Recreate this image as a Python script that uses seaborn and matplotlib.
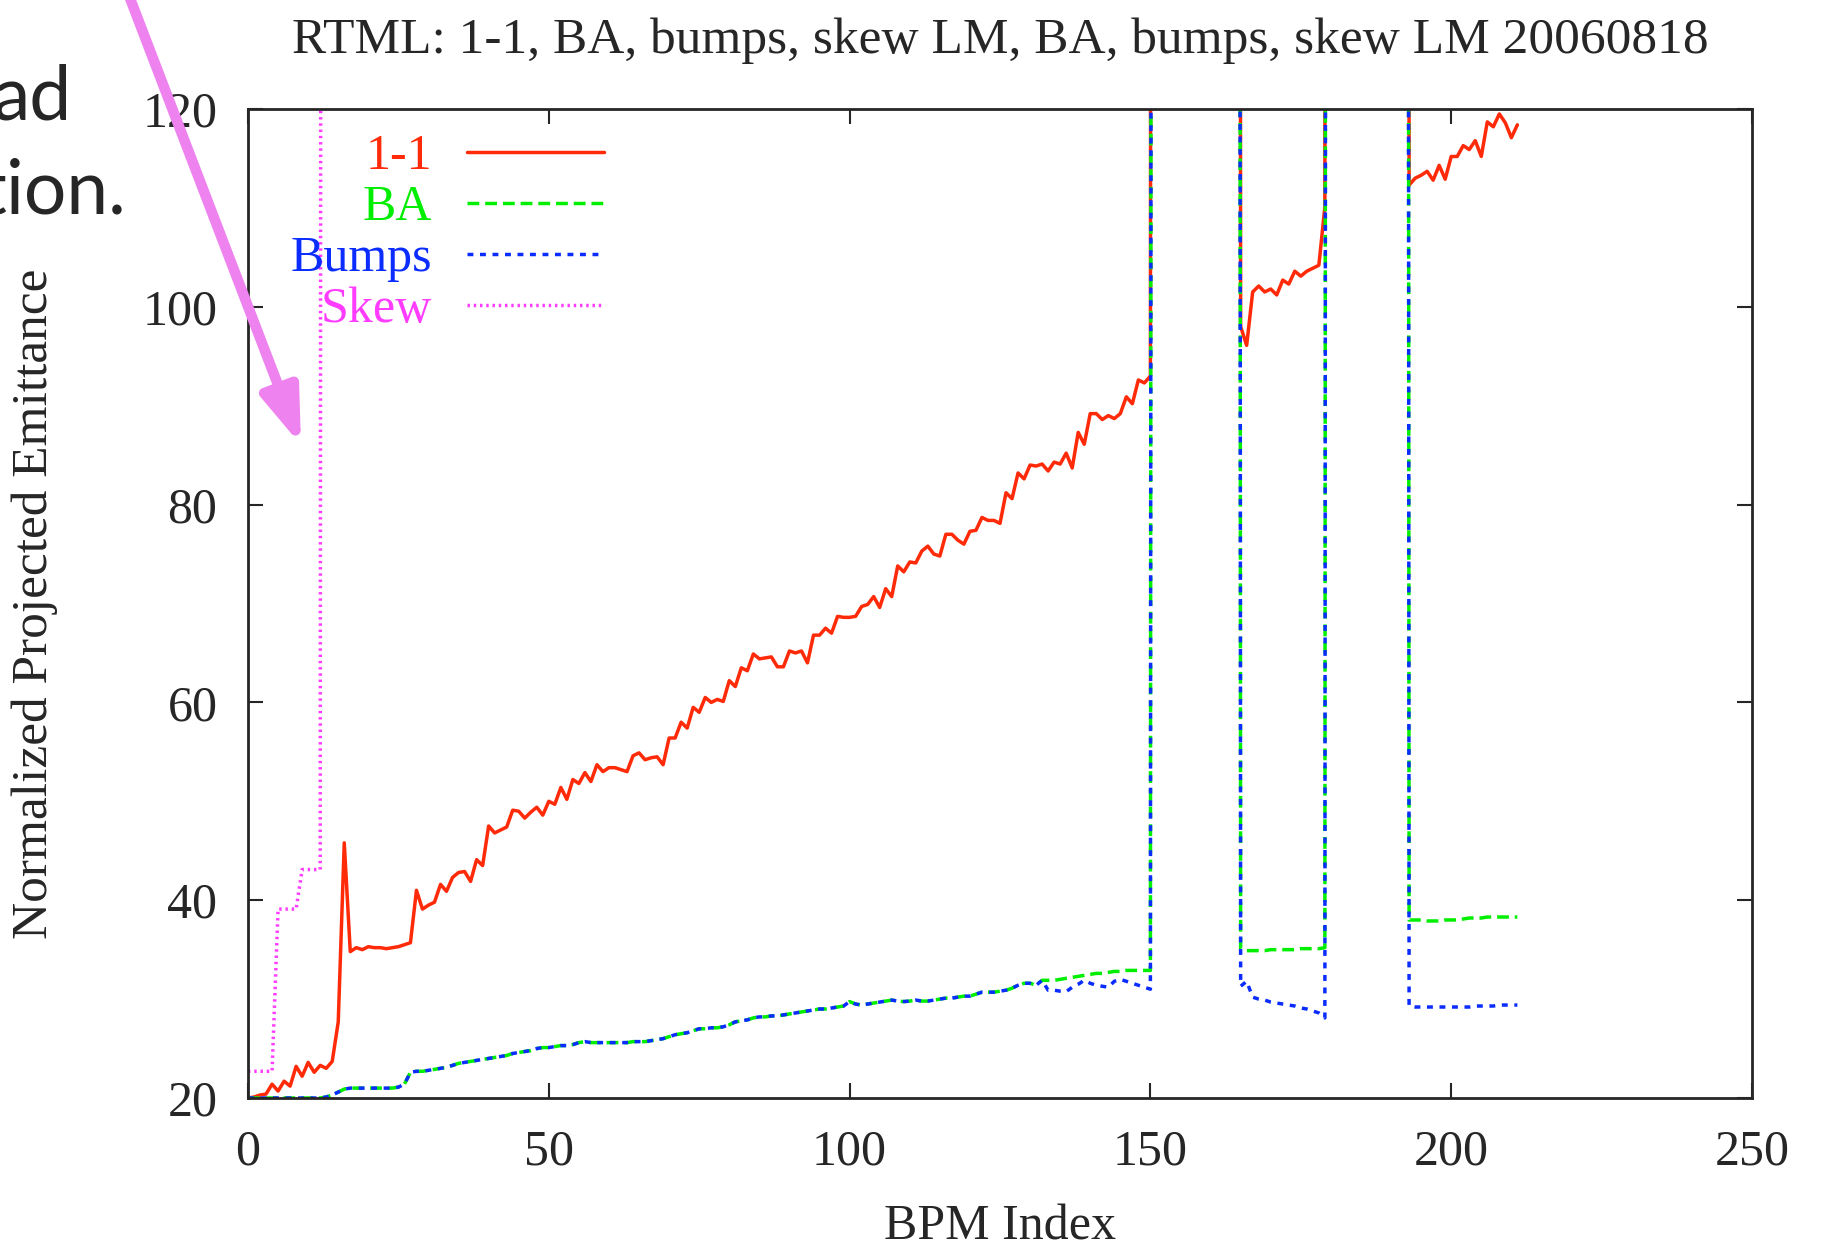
import numpy as np
import pandas as pd
import matplotlib
matplotlib.use("Agg")
import matplotlib.pyplot as plt
from matplotlib.patches import FancyArrowPatch
import seaborn as sns

# Style (gnuplot look: serif text, ticks inside on all four sides)
sns.set_style("ticks")
plt.rcParams['font.family'] = ['Liberation Serif', 'DejaVu Serif']

# Value used for points that ran off the top of the plot
OFF = 1000.0

# --- data: normalized projected emittance per BPM index ---
one_to_one = [
    20.0, 20.1, 20.3, 20.4, 21.4, 20.7, 21.7, 21.2, 23.2, 22.2,
    23.6, 22.6, 23.3, 23.0, 23.7, 27.7, 45.8, 34.8, 35.2, 35.0,
    35.3, 35.2, 35.2, 35.1, 35.2, 35.3, 35.5, 35.7, 41.0, 39.1,
    39.5, 39.8, 41.6, 40.9, 42.3, 42.8, 42.9, 41.9, 44.1, 43.5,
    47.5, 46.8, 47.1, 47.4, 49.1, 49.0, 48.3, 48.9, 49.4, 48.6,
    50.0, 49.7, 51.4, 50.2, 52.2, 51.8, 52.9, 52.0, 53.7, 53.0,
    53.4, 53.4, 53.2, 53.0, 54.6, 54.9, 54.2, 54.4, 54.5, 53.7,
    56.4, 56.4, 58.0, 57.4, 59.5, 59.0, 60.5, 60.0, 60.3, 60.1,
    62.2, 61.6, 63.5, 63.2, 64.9, 64.4, 64.5, 64.6, 63.6, 63.6,
    65.2, 65.0, 65.2, 64.0, 66.8, 66.8, 67.5, 67.0, 68.7, 68.6,
    68.6, 68.7, 69.7, 69.9, 70.7, 69.6, 71.5, 70.7, 73.8, 73.2,
    74.2, 74.1, 75.3, 75.8, 75.0, 74.8, 77.0, 77.0, 76.4, 76.0,
    77.3, 77.4, 78.7, 78.4, 78.4, 78.1, 81.2, 80.6, 83.2, 82.6,
    84.0, 83.9, 84.1, 83.4, 84.3, 84.1, 85.2, 83.7, 87.3, 86.1,
    89.2, 89.2, 88.6, 89.0, 88.7, 89.2, 90.9, 90.2, 92.6, 92.3,
    93.0,
] + [OFF] * 14 + [
    98.0, 96.1, 101.5, 102.1, 101.5, 101.8, 101.2, 102.7, 102.3, 103.6,
    103.1, 103.6, 103.9, 104.2, 110.1,
] + [OFF] * 13 + [
    112.3, 113.0, 113.3, 113.7, 112.8, 114.3, 112.9, 115.2, 115.2, 116.3,
    115.9, 116.8, 115.2, 118.7, 118.2, 119.5, 118.6, 117.1, 118.4,
]

ba = [
    20.0, 20.0, 20.0, 20.0, 20.0, 20.0, 20.0, 20.0, 20.0, 20.0,
    20.0, 20.0, 20.0, 20.1, 20.3, 20.6, 20.9, 21.0, 21.0, 21.0,
    21.0, 21.0, 21.0, 21.0, 21.0, 21.1, 21.4, 22.6, 22.7, 22.7,
    22.8, 22.9, 23.0, 23.1, 23.3, 23.5, 23.6, 23.7, 23.8, 23.9,
    24.0, 24.1, 24.2, 24.3, 24.5, 24.6, 24.7, 24.8, 25.0, 25.1,
    25.1, 25.2, 25.3, 25.3, 25.4, 25.6, 25.7, 25.6, 25.6, 25.6,
    25.6, 25.6, 25.6, 25.6, 25.7, 25.7, 25.7, 25.8, 25.9, 26.0,
    26.2, 26.4, 26.5, 26.6, 26.8, 27.0, 27.0, 27.1, 27.1, 27.2,
    27.4, 27.7, 27.8, 27.9, 28.1, 28.2, 28.2, 28.3, 28.3, 28.4,
    28.5, 28.6, 28.7, 28.8, 28.9, 29.0, 29.0, 29.1, 29.2, 29.3,
    29.75, 29.5, 29.4, 29.5, 29.6, 29.7, 29.8, 29.9, 29.8, 29.75,
    29.8, 29.9, 29.8, 29.8, 29.9, 30.0, 30.1, 30.1, 30.2, 30.3,
    30.3, 30.5, 30.7, 30.7, 30.7, 30.8, 30.9, 31.1, 31.4, 31.6,
    31.6, 31.4, 31.9, 31.9, 31.9, 32.0, 32.1, 32.2, 32.3, 32.4,
    32.5, 32.6, 32.6, 32.7, 32.8, 32.8, 32.9, 32.9, 32.9, 32.9,
    32.9,
] + [OFF] * 14 + [
    35.1, 34.9, 34.9, 34.9, 34.9, 35.0, 35.0, 35.0, 35.0, 35.0,
    35.1, 35.1, 35.1, 35.1, 35.2,
] + [OFF] * 13 + [
    38.0, 38.0, 38.0, 37.9, 37.9, 37.9, 38.0, 38.0, 38.0, 38.1,
    38.2, 38.2, 38.2, 38.3, 38.3, 38.3, 38.3, 38.3, 38.3,
]

# bumps follows BA exactly up to index 132
bumps = ba[:133] + [
    30.9, 30.9, 30.8, 30.75, 31.2, 31.5, 31.9, 31.6, 31.4, 31.3,
    31.2, 31.8, 32.0, 31.8, 31.6, 31.4, 31.2, 31.0,
] + [OFF] * 14 + [
    31.3, 31.8, 30.2, 30.0, 29.9, 29.7, 29.6, 29.5, 29.4, 29.3,
    29.1, 29.0, 28.8, 28.6, 28.1,
] + [OFF] * 13 + [
    29.3, 29.2, 29.2, 29.2, 29.2, 29.2, 29.2, 29.2, 29.2, 29.2,
    29.2, 29.3, 29.3, 29.3, 29.3, 29.4, 29.4, 29.4, 29.4,
]

skew = [22.7, 22.7, 22.7, 22.7, 22.7, 39.1, 39.1, 39.1, 39.1,
        43.1, 43.1, 43.1, 43.1, OFF]

series_names = ["1-1", "BA", "Bumps", "Skew"]
series_values = [one_to_one, ba, bumps, skew]

colors = {"1-1": "#ff2a08", "BA": "#00ee00", "Bumps": "#0a2cff", "Skew": "#ff3cff"}
linestyles = {
    "1-1": "-",
    "BA": (0, (3.4, 1.7)),
    "Bumps": (0, (1.7, 1.9)),
    "Skew": (0, (0.7, 1.1)),
}

frames = []
for name, vals in zip(series_names, series_values):
    frames.append(pd.DataFrame({"BPM": np.arange(len(vals)), "emit": vals, "run": name}))
df = pd.concat(frames, ignore_index=True)

fig = plt.figure(figsize=(18.28, 12.48), dpi=100)
ax = fig.add_axes([248 / 1828, 1 - 1098 / 1248, 1504 / 1828, 989 / 1248])

for name in series_names:
    sub = df[df["run"] == name]
    sns.lineplot(data=sub, x="BPM", y="emit", ax=ax, color=colors[name],
                 linestyle=linestyles[name], lw=2.5, label=name,
                 estimator=None, sort=False)

ax.set_xlim(0, 250)
ax.set_ylim(20, 120)
ax.set_xticks(np.arange(0, 251, 50))
ax.set_yticks(np.arange(20, 121, 20))
ax.tick_params(direction="in", length=11, width=1.5, top=True, right=True,
               labelsize=36, pad=22)
for sp in ax.spines.values():
    sp.set_linewidth(2)
    sp.set_visible(True)

ax.set_title("RTML: 1-1, BA, bumps, skew LM, BA, bumps, skew LM 20060818",
             fontsize=37, pad=40)
ax.set_xlabel("BPM Index", fontsize=36)
ax.set_ylabel("Normalized Projected Emittance", fontsize=37)
ax.xaxis.set_label_coords(0.5, -0.107)
ax.yaxis.set_label_coords(-0.126, 0.5)

leg = ax.legend(loc="upper right", bbox_to_anchor=(0.237, 0.975), frameon=False,
                markerfirst=False, fontsize=36, handlelength=2.75,
                handletextpad=0.7, labelspacing=0.09, borderpad=0, borderaxespad=0)
for txt, line in zip(leg.get_texts(), leg.get_lines()):
    txt.set_color(line.get_color())

# slide text cut off at the left edge
fig.text(72 / 1828, 1 - 119 / 1248, "ad", ha="right", va="baseline",
         fontsize=54, family=["Lato", "DejaVu Sans"])
fig.text(126 / 1828, 1 - 213 / 1248, "tion.", ha="right", va="baseline",
         fontsize=54, family=["Lato", "DejaVu Sans"])

# annotation arrow pointing at the skew jump
arrow = FancyArrowPatch((123 / 1828, 1 + 20 / 1248), (301 / 1828, 1 - 445 / 1248),
                        transform=fig.transFigure, arrowstyle="-|>,head_length=3.3,head_width=1.15",
                        mutation_scale=10, lw=7.5, color="#ee82ee", shrinkA=0, shrinkB=0)
fig.add_artist(arrow)

fig.savefig("out.png", dpi=100)
